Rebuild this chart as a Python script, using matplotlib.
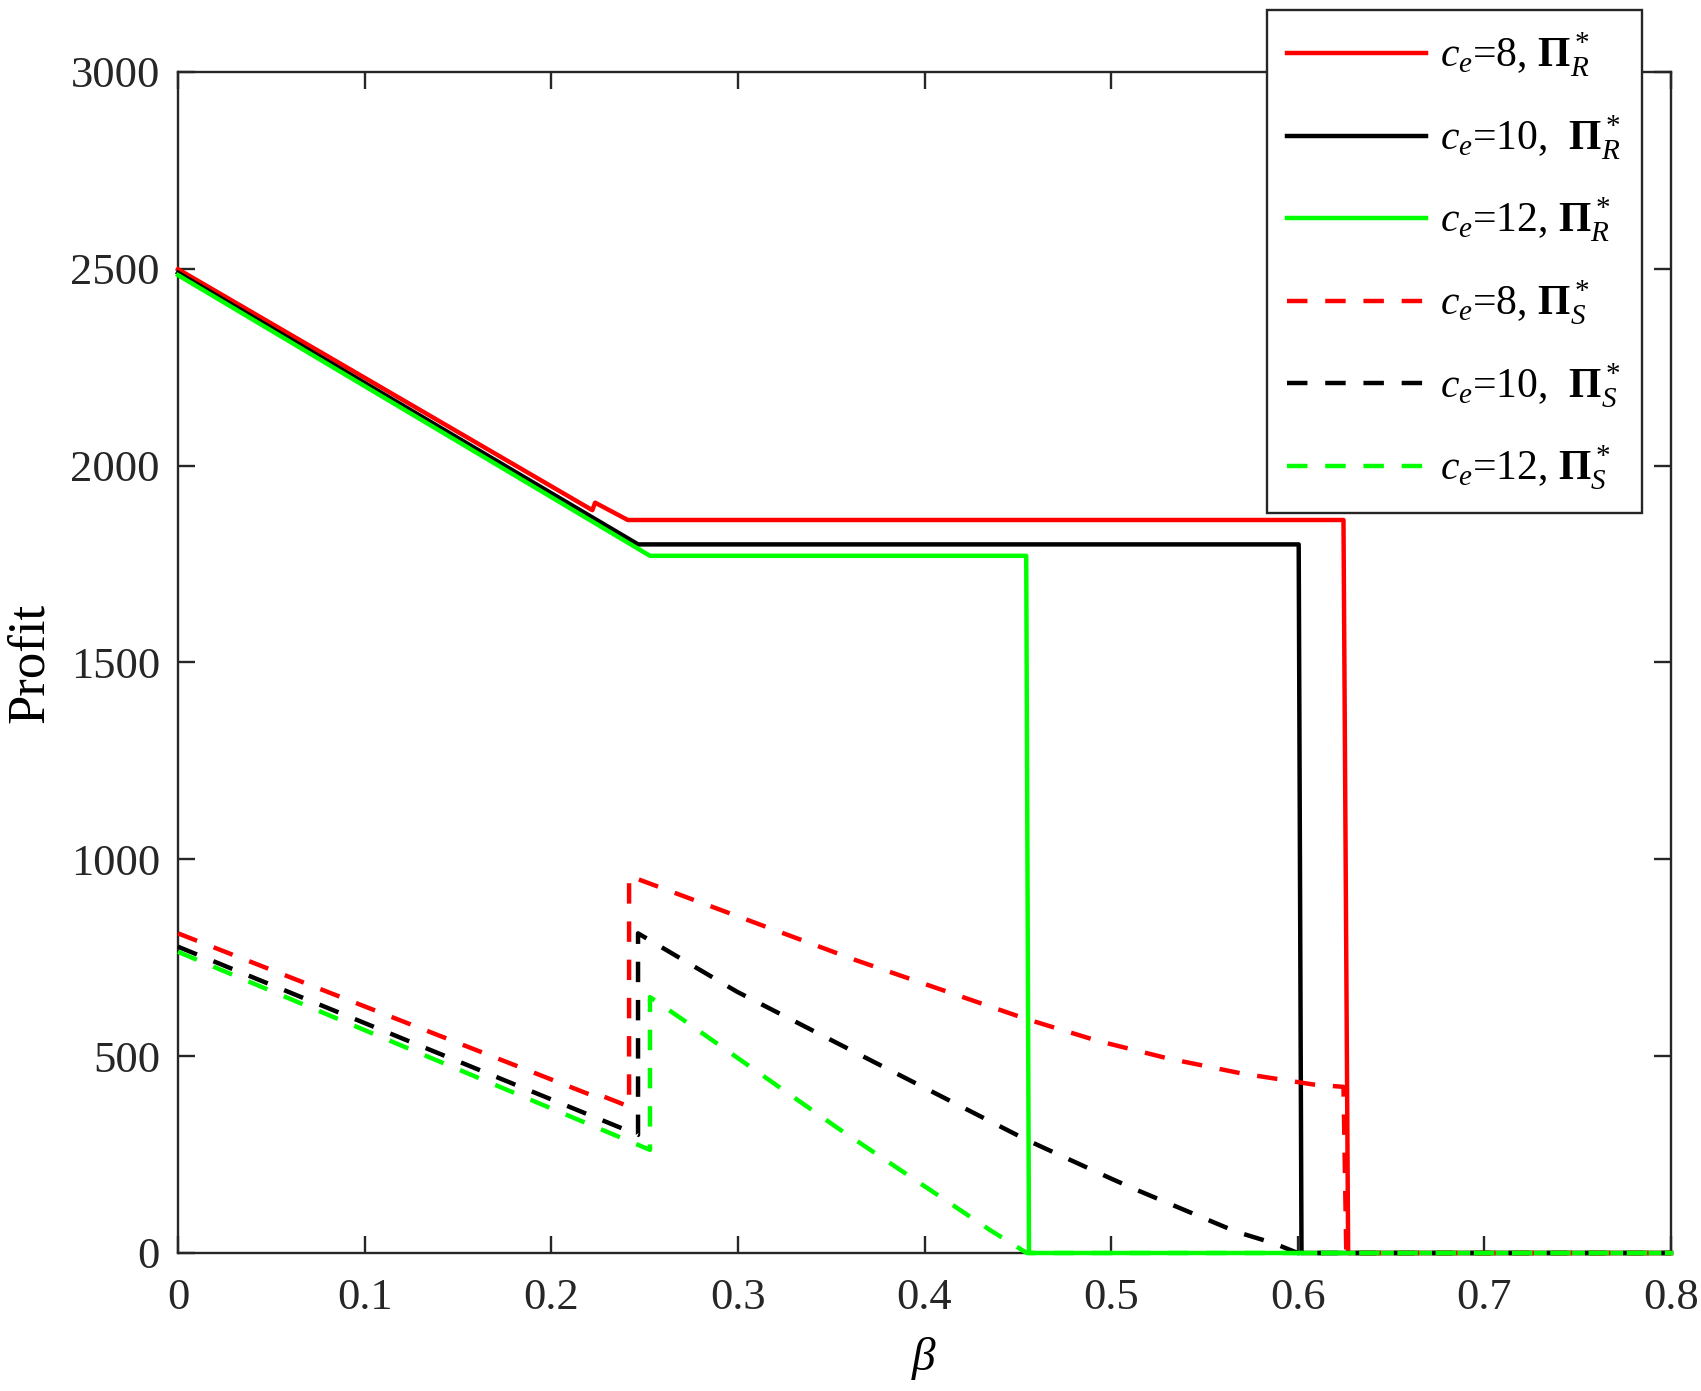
import matplotlib
matplotlib.use('agg')
import matplotlib.pyplot as plt
import matplotlib.ticker as ticker

plt.rcParams['font.family'] = ['Liberation Serif', 'DejaVu Serif']
plt.rcParams['mathtext.fontset'] = 'custom'
plt.rcParams['mathtext.rm'] = 'Liberation Serif'
plt.rcParams['mathtext.it'] = 'Liberation Serif:italic'
plt.rcParams['mathtext.bf'] = 'Liberation Serif:bold'

# retailer profit, solid lines
beta_R8 = [0, 0.222, 0.2235, 0.241, 0.6245, 0.627, 0.8]
piR_8 = [2499, 1887, 1906, 1862, 1862, 0, 0]
beta_R10 = [0, 0.2465, 0.6005, 0.602, 0.8]
piR_10 = [2490, 1800, 1800, 0, 0]
beta_R12 = [0, 0.2529, 0.4545, 0.456, 0.8]
piR_12 = [2484, 1771, 1771, 0, 0]

# supplier profit, dashed lines
beta_S8 = [0, 0.222, 0.2235, 0.2417, 0.2417, 0.3619, 0.4548, 0.4927,
           0.5307, 0.5700, 0.6084, 0.6245, 0.626, 0.8]
piS_8 = [812, 400, 406, 372, 958, 746, 594, 539,
         494, 456, 428, 422, 0, 0]
beta_S10 = [0, 0.2465, 0.2465, 0.2994, 0.3726, 0.4548, 0.4995, 0.5138,
            0.567, 0.587, 0.600, 0.8]
piS_10 = [778, 300, 812, 664, 486, 287, 190, 160,
          54, 25, 0, 0]
beta_S12 = [0, 0.2529, 0.2529, 0.2729, 0.3533, 0.4352, 0.4548, 0.8]
piS_12 = [765, 262, 650, 585, 318, 58, 0, 0]

labels = [r'$c_e$=8, $\mathbf{\Pi}_R^*$',
          r'$c_e$=10,  $\mathbf{\Pi}_R^*$',
          r'$c_e$=12, $\mathbf{\Pi}_R^*$',
          r'$c_e$=8, $\mathbf{\Pi}_S^*$',
          r'$c_e$=10,  $\mathbf{\Pi}_S^*$',
          r'$c_e$=12, $\mathbf{\Pi}_S^*$']

fig = plt.figure(figsize=(17.01, 13.91), dpi=100)
ax = fig.add_axes([0.10465, 0.09921, 0.87772, 0.84903])

lw = 3.2
dash = (4.6, 4.0)
kw = dict(lw=lw, clip_on=False, zorder=3)
ax.plot(beta_R8, piR_8, color='#ff0000', label=labels[0], **kw)
ax.plot(beta_R10, piR_10, color='#000000', label=labels[1], **kw)
ax.plot(beta_R12, piR_12, color='#00ff00', label=labels[2], **kw)
ax.plot(beta_S8, piS_8, color='#ff0000', dashes=dash, label=labels[3], **kw)
ax.plot(beta_S10, piS_10, color='#000000', dashes=dash, label=labels[4], **kw)
ax.plot(beta_S12, piS_12, color='#00ff00', dashes=dash, label=labels[5], **kw)

ax.set_xlim(0, 0.8)
ax.set_ylim(0, 3000)
ax.xaxis.set_major_locator(ticker.MultipleLocator(0.1))
ax.yaxis.set_major_locator(ticker.MultipleLocator(500))
ax.xaxis.set_major_formatter(ticker.FuncFormatter(lambda v, p: '0' if abs(v) < 1e-9 else '%g' % v))

for s in ax.spines.values():
    s.set_linewidth(1.7)
    s.set_color('#262626')
ax.tick_params(direction='in', length=12, width=1.7, color='#262626',
               top=True, right=True, labelsize=32, labelcolor='#262626')
ax.tick_params(axis='x', pad=18)
ax.tick_params(axis='y', pad=13)

ax.set_xlabel(r'$\beta$', fontsize=34, labelpad=12)
ax.set_ylabel('Profit', fontsize=38, labelpad=12)

leg = ax.legend(loc='upper right', bbox_to_anchor=(0.9653, 0.9928),
                bbox_transform=fig.transFigure, borderaxespad=0,
                fontsize=30, handlelength=3.33, handletextpad=0.34,
                labelspacing=0.82, borderpad=0.5,
                fancybox=False, framealpha=1, edgecolor='#262626')
leg.get_frame().set_linewidth(1.7)

plt.savefig('out.png', dpi=100)
